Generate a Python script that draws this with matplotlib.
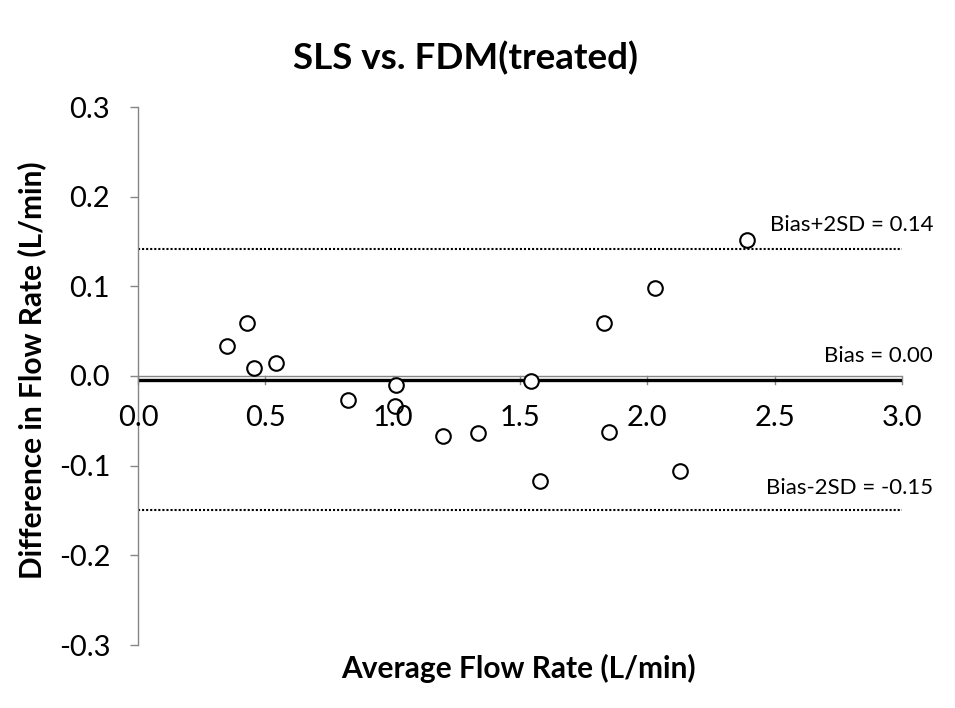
import matplotlib
matplotlib.use("Agg")
import matplotlib.pyplot as plt

plt.rcParams['font.family'] = ['Lato', 'DejaVu Sans']

# Data
avg_flow = [0.348, 0.427, 0.455, 0.542, 0.824, 1.008, 1.014, 1.196, 1.336,
            1.542, 1.578, 1.831, 1.849, 2.03, 2.128, 2.39]
diff_flow = [0.033, 0.059, 0.009, 0.015, -0.027, -0.033, -0.010, -0.067, -0.064,
             -0.006, -0.117, 0.059, -0.063, 0.098, -0.106, 0.152]
bias = -0.005
upper_loa = 0.142
lower_loa = -0.149
bias_labels = ["Bias+2SD = 0.14", "Bias = 0.00", "Bias-2SD = -0.15"]
x_ticks = [0.0, 0.5, 1.0, 1.5, 2.0, 2.5, 3.0]
y_ticks = [-0.3, -0.2, -0.1, 0.0, 0.1, 0.2, 0.3]

fig = plt.figure(figsize=(9.55, 7.08), dpi=100)
ax = fig.add_axes([138/955, 1-645/708, (902-138)/955, (645-107)/708])

ax.set_xlim(0, 3.0)
ax.set_ylim(-0.3, 0.3)

gray = '#868686'
for s in ['top', 'right', 'bottom']:
    ax.spines[s].set_visible(False)
ax.spines['left'].set_color(gray)
ax.spines['left'].set_linewidth(1.0)
ax.spines['left'].set_position(('data', 0))
ax.axhline(0, color=gray, lw=1.0, zorder=1)

ax.plot([0, 3.0], [upper_loa, upper_loa], color='black', lw=1.5,
        linestyle=(0, (1, 0.95)), zorder=2)
ax.plot([0, 3.0], [lower_loa, lower_loa], color='black', lw=1.5,
        linestyle=(0, (1, 0.95)), zorder=2)
ax.plot([0, 3.0], [bias, bias], color='black', lw=2.4, zorder=2)

ax.plot(avg_flow, diff_flow, linestyle='none', marker='o', markersize=10.5,
        markerfacecolor='white', markeredgecolor='black', markeredgewidth=1.5,
        zorder=3, clip_on=False)

ax.set_yticks(y_ticks)
ax.set_yticklabels([f"{v:.1f}" for v in y_ticks])

ax.tick_params(axis='x', which='both', bottom=False, labelbottom=False)
ax.tick_params(axis='y', direction='out', length=6, width=1.0, color=gray,
               labelsize=21, pad=14)

for xv in x_ticks:
    ax.plot([xv, xv], [0, -0.009], color=gray, lw=1.0, zorder=1, clip_on=False)
    ax.text(xv, -0.047, f"{xv:.1f}", ha='center', va='center', fontsize=21)

ax.annotate(bias_labels[0], xy=(933/955, 1-225/708), xycoords='figure fraction',
            ha='right', va='center', fontsize=16)
ax.annotate(bias_labels[1], xy=(933/955, 1-356/708), xycoords='figure fraction',
            ha='right', va='center', fontsize=16)
ax.annotate(bias_labels[2], xy=(933/955, 1-488/708), xycoords='figure fraction',
            ha='right', va='center', fontsize=16)

fig.text(465/955, 1-58/708, "SLS vs. FDM(treated)", ha='center', va='center',
         fontsize=26.5, fontweight='bold')
fig.text(518/955, 1-668/708, "Average Flow Rate (L/min)", ha='center', va='center',
         fontsize=21.5, fontweight='bold')
fig.text(32/955, 1-370/708, "Difference in Flow Rate (L/min)", ha='center', va='center',
         fontsize=21.5, fontweight='bold', rotation=90)

fig.savefig("out.png", dpi=100)
